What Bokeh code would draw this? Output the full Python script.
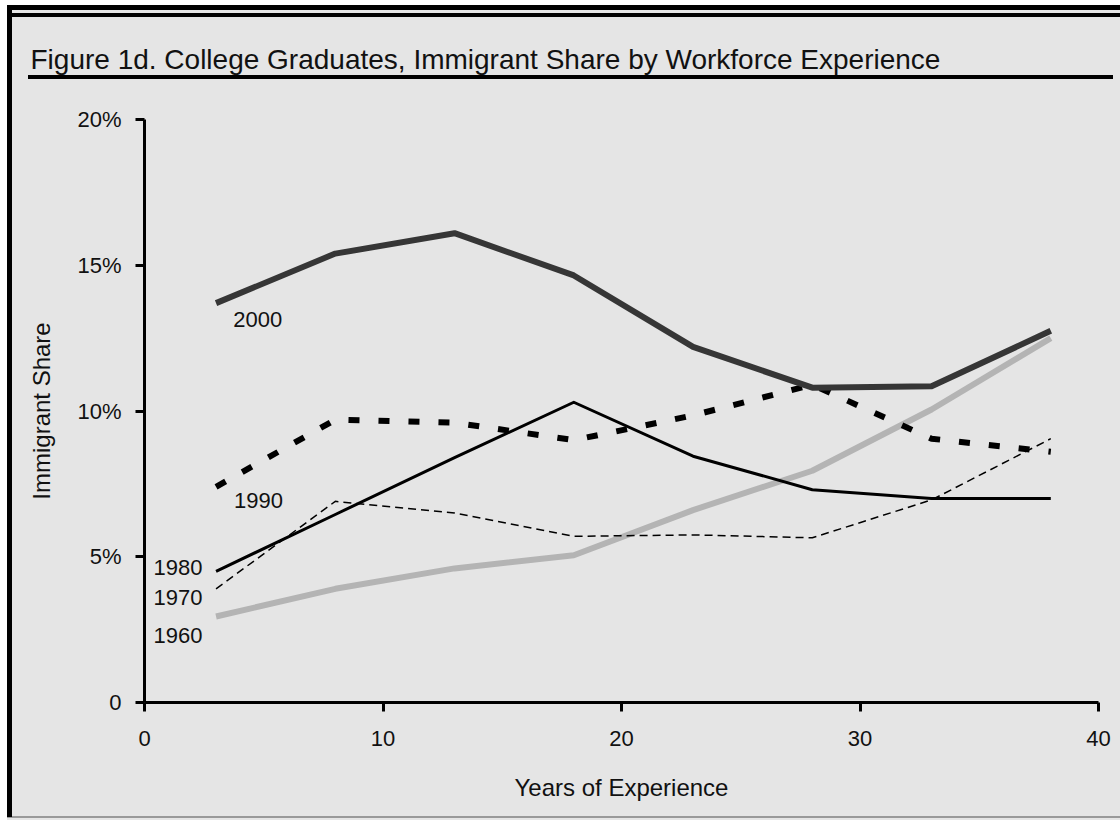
from bokeh.plotting import figure
from bokeh.models import Range1d, Label, FixedTicker, CustomJSTickFormatter
from bokeh.embed import file_html
from bokeh.resources import INLINE

# ---- data ----
experience = [3, 8, 13, 18, 23, 28, 33, 38]
share_2000 = [13.7, 15.4, 16.1, 14.65, 12.2, 10.8, 10.85, 12.75]
share_1990 = [7.4, 9.7, 9.6, 9.0, 9.85, 10.9, 9.05, 8.6]
share_1980 = [4.5, 6.45, 8.4, 10.3, 8.45, 7.3, 7.0, 7.0]
share_1970 = [3.9, 6.9, 6.5, 5.7, 5.75, 5.65, 6.95, 9.05]
share_1960 = [2.95, 3.9, 4.6, 5.05, 6.6, 7.95, 10.05, 12.5]
series_names = ["2000", "1990", "1980", "1970", "1960"]
x_ticks = [0, 10, 20, 30, 40]
y_ticks = [0, 5, 10, 15, 20]
y_tick_labels = ["0", "5%", "10%", "15%", "20%"]

title_text = "Figure 1d. College Graduates, Immigrant Share by Workforce Experience"
x_label = "Years of Experience"
y_label = "Immigrant Share"

FONT = "Liberation Sans"
BG = "#e5e5e5"
TXT = "#111111"

# page frame drawn as CSS background behind the transparent border area
frame_css = ", ".join([
    "linear-gradient(#000,#000) 28px 75px / 1085px 4px no-repeat",   # title rule
    "linear-gradient(#000,#000) 7px 5px / 100% 5px no-repeat",       # top border
    "linear-gradient(#000,#000) 7px 13px / 100% 4px no-repeat",      # inner top border
    "linear-gradient(#000,#000) 7px 5px / 5px 812px no-repeat",      # left border
    "linear-gradient(#999,#999) 7px 816px / 100% 2px no-repeat",     # bottom rule
    "linear-gradient(#fff,#fff) 0 0 / 100% 5px no-repeat",
    "linear-gradient(#fff,#fff) 0 0 / 7px 100% no-repeat",
    BG,
])

p = figure(width=1120, height=820, x_range=Range1d(0, 40), y_range=Range1d(0, 20),
           output_backend="svg", toolbar_location=None,
           background_fill_color=BG, border_fill_color=None,
           min_border_left=144, min_border_right=22, min_border_top=119, min_border_bottom=118,
           styles={"background": frame_css})
p.grid.visible = False
p.outline_line_color = None

# title
p.title.text = title_text
p.title.text_font = FONT
p.title.text_font_size = "28px"
p.title.text_font_style = "normal"
p.title.text_color = TXT
p.title.align = "left"
p.title.vertical_align = "top"
p.title.offset = -114
p.title.standoff = 85

# axes
for ax in (p.xaxis[0], p.yaxis[0]):
    ax.axis_line_width = 3
    ax.axis_line_color = "black"
    ax.major_tick_line_width = 3
    ax.major_tick_line_color = "black"
    ax.major_tick_in = 0
    ax.major_tick_out = 9
    ax.minor_tick_line_color = None
    ax.major_label_text_font = FONT
    ax.major_label_text_font_size = "22px"
    ax.major_label_text_color = TXT
    ax.axis_label_text_font = FONT
    ax.axis_label_text_font_size = "24px"
    ax.axis_label_text_font_style = "normal"
    ax.axis_label_text_color = TXT

p.xaxis.ticker = FixedTicker(ticks=x_ticks)
p.xaxis.bounds = (0, 40)
p.xaxis.major_label_standoff = 19
p.xaxis.axis_label = x_label
p.xaxis.axis_label_standoff = 25

p.yaxis.ticker = FixedTicker(ticks=y_ticks)
p.yaxis.bounds = (0, 20)
p.yaxis.formatter = CustomJSTickFormatter(
    args=dict(tvals=y_ticks, tlabels=y_tick_labels),
    code="const i = tvals.indexOf(tick); return i >= 0 ? tlabels[i] : '';")
p.yaxis.major_label_standoff = 14
p.yaxis.axis_label = y_label
p.yaxis.axis_label_standoff = 19

# series
p.line(experience, share_1960, line_color="#b4b4b4", line_width=6, line_join="round")
p.line(experience, share_1970, line_color="black", line_width=1.5, line_dash="8 5")
p.line(experience, share_1980, line_color="black", line_width=3, line_join="round")
p.line(experience, share_1990, line_color="black", line_width=6, line_dash="11 19")
p.line(experience, share_2000, line_color="#363636", line_width=6, line_join="round")

# series labels (annotation anchors)
label_pos = {"2000": (3.72, 13.14), "1990": (3.75, 6.93), "1980": (0.38, 4.63),
             "1970": (0.38, 3.6), "1960": (0.38, 2.3)}
for name in series_names:
    lx, ly = label_pos[name]
    p.add_layout(Label(x=lx, y=ly, text=name, text_font=FONT, text_font_size="22px",
                       text_color=TXT, text_baseline="middle", text_align="left"))

open("out.html", "w").write(file_html(p, INLINE))
